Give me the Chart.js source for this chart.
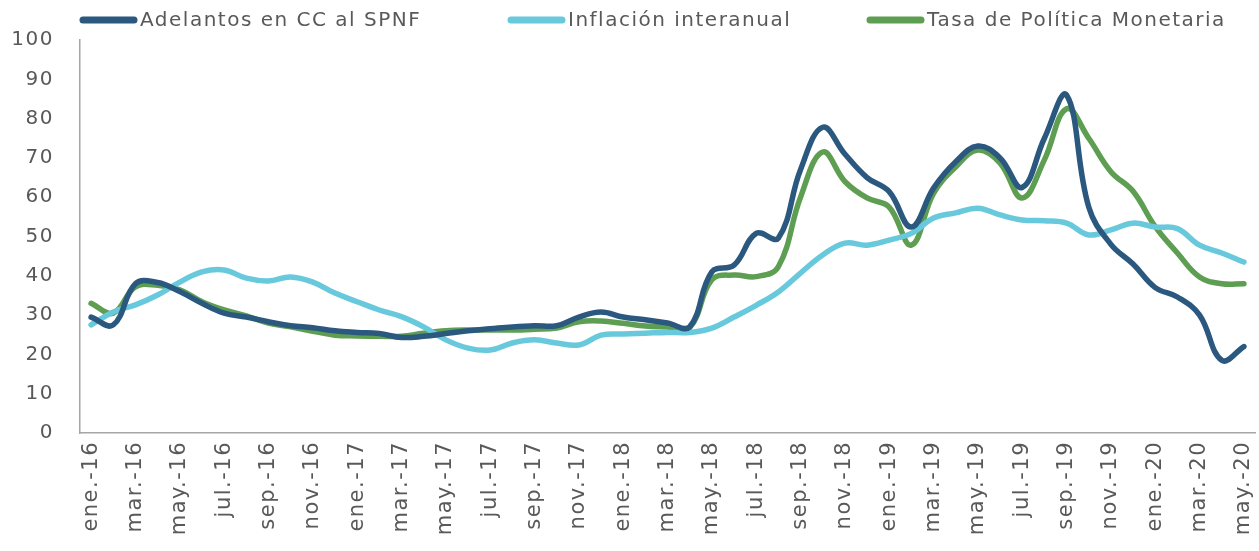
<!DOCTYPE html>
<html>
<head>
<meta charset="utf-8">
<script src="https://cdn.jsdelivr.net/npm/chart.js@4/dist/chart.umd.min.js"></script>
<style>
    body { margin: 0; background: #fff; }
    #wrap { width: 1259px; height: 551px; }
</style>
</head>
<body>
<div id="wrap"><canvas id="myCanvas" width="1259" height="551"></canvas></div>
<script>
// meses ene.-16 .. may.-20
var months = ['ene.', 'feb.', 'mar.', 'abr.', 'may.', 'jun.', 'jul.', 'ago.', 'sep.', 'oct.', 'nov.', 'dic.'];
var years = ['16', '17', '18', '19', '20'];
var labels = [];
for (var y = 0; y < years.length; y++) {
    for (var m = 0; m < 12; m++) {
        if (years[y] === '20' && m > 4) break;
        labels.push(months[m] + '-' + years[y]);
    }
}

var adelantos = [29.5, 27.5, 38, 38.3, 36, 33, 30.5, 29.5, 28.3, 27.3, 26.8, 26,
    25.6, 25.3, 24.3, 24.6, 25.3, 26, 26.5, 27, 27.3, 27.3, 29.5, 30.8,
    29.5, 28.8, 28, 27, 41, 42.7, 50.8, 49.6, 67, 77.8, 71, 65,
    61.4, 52.4, 62.3, 69, 73, 70, 62.5, 75, 86, 57.5, 48, 43,
    37, 34.6, 30, 18.5, 22];

var inflacion = [27.5, 30.8, 32.6, 35.1, 38.4, 41, 41.5, 39.4, 38.7, 39.7, 38.4, 35.6,
    33.4, 31.3, 29.6, 27, 23.7, 21.6, 21.1, 22.9, 23.7, 22.9, 22.4, 24.9,
    25.2, 25.4, 25.6, 25.6, 26.7, 29.5, 32.5, 35.9, 40.7, 45.3, 48.3, 47.8,
    49.1, 50.8, 54.7, 56, 57.2, 55.5, 54.2, 54, 53.4, 50.4, 51.7, 53.4,
    52.4, 52, 47.8, 45.8, 43.5];

var tasa = [33, 30.5, 37.2, 37.6, 36.4, 33.4, 31.3, 29.8, 28, 27, 25.9, 24.9,
    24.7, 24.6, 24.6, 25.4, 26, 26.2, 26.2, 26.2, 26.4, 26.7, 28.3, 28.5,
    27.9, 27.2, 27, 26.8, 39, 40.2, 39.8, 42.3, 60, 71.5, 64, 59.8,
    57.5, 47.8, 61, 67.7, 72, 68.7, 59.8, 69.5, 82.5, 75, 66.5, 61.5,
    52.5, 45.8, 39.7, 38, 38];

var textColor = '#595959';
var axisColor = '#a6a6a6';
var legendX = [80, 508, 867]; // inicio de cada item de la leyenda

Chart.defaults.font.family = '"DejaVu Sans", Verdana, sans-serif';
Chart.defaults.font.size = 20;
Chart.defaults.color = textColor;

function serie(label, data, color) {
    return {
        label: label,
        data: data,
        borderColor: color,
        backgroundColor: color,
        borderWidth: 5.5,
        borderCapStyle: 'round',
        borderJoinStyle: 'round',
        pointRadius: 0,
        tension: 0.4,
        fill: false
    };
}

// espaciado de letras tipo Excel
var spacingPlugin = {
    id: 'spacing',
    beforeUpdate: function (chart) { chart.ctx.letterSpacing = '1.5px'; },
    beforeDraw: function (chart) { chart.ctx.letterSpacing = '1.5px'; }
};

// leyenda dibujada a mano (linea + texto)
var legendPlugin = {
    id: 'excelLegend',
    afterDraw: function (chart) {
        var c = chart.ctx;
        c.save();
        c.letterSpacing = '1.5px';
        c.font = '20px "DejaVu Sans", Verdana, sans-serif';
        c.textBaseline = 'middle';
        c.textAlign = 'left';
        chart.data.datasets.forEach(function (ds, i) {
            var x0 = legendX[i];
            c.strokeStyle = ds.borderColor;
            c.lineWidth = 7;
            c.lineCap = 'round';
            c.beginPath();
            c.moveTo(x0 + 3, 20);
            c.lineTo(x0 + 54, 20);
            c.stroke();
            c.fillStyle = textColor;
            c.fillText(ds.label, x0 + 60, 21);
        });
        c.restore();
    }
};

var ctx = document.getElementById('myCanvas').getContext('2d');
var myChart = new Chart(ctx, {
    type: 'line',
    data: {
        labels: labels,
        datasets: [
            serie('Adelantos en CC al SPNF', adelantos, '#2b587e'),
            serie('Inflación interanual', inflacion, '#68c9dc'),
            serie('Tasa de Política Monetaria', tasa, '#5e9e52')
        ]
    },
    plugins: [spacingPlugin, legendPlugin],
    options: {
        responsive: false,
        animation: false,
        layout: { padding: { left: 0, right: 4, top: 40, bottom: 0 } },
        plugins: {
            tooltip: { enabled: false },
            legend: { display: false }
        },
        scales: {
            x: {
                offset: true,
                grid: { display: false, drawTicks: false },
                border: { color: axisColor, width: 1.5 },
                ticks: {
                    autoSkip: false,
                    maxRotation: 90,
                    minRotation: 90,
                    padding: 8,
                    color: textColor,
                    font: { size: 21 },
                    callback: function (val, i) {
                        return i % 2 === 0 ? this.getLabelForValue(val) : '';
                    }
                },
                afterFit: function (scale) {
                    scale.height = 118;
                    scale.paddingLeft = 0;
                    scale.paddingRight = 0;
                }
            },
            y: {
                min: 0,
                max: 100,
                grid: { display: false, drawTicks: false },
                border: { color: axisColor, width: 1.5 },
                ticks: { stepSize: 10, padding: 26, color: textColor },
                afterFit: function (scale) { scale.width = 80; }
            }
        }
    }
});
</script>
</body>
</html>
